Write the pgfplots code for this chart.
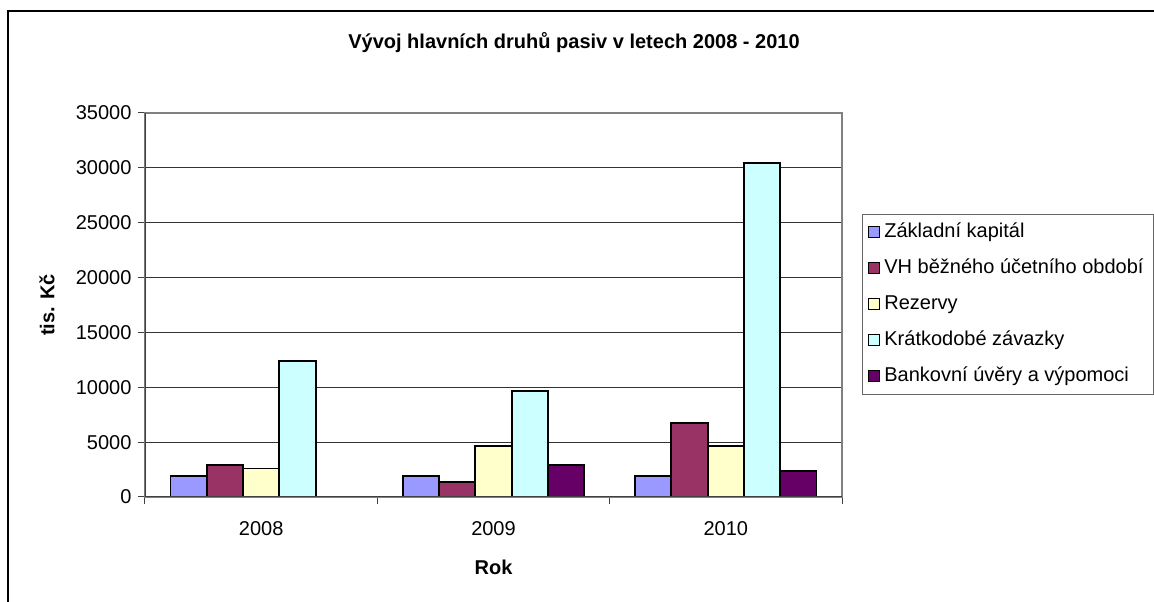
\documentclass[border=0pt]{standalone}
\usepackage{pgfplots}
\pgfplotsset{compat=1.18}
\usepackage{fontspec}
\setmainfont{Liberation Sans}
\definecolor{c1}{HTML}{9999FF}
\definecolor{c2}{HTML}{993366}
\definecolor{c3}{HTML}{FFFFCC}
\definecolor{c4}{HTML}{CCFFFF}
\definecolor{c5}{HTML}{660066}
\newcommand{\fs}{\fontsize{20pt}{24pt}\selectfont}
\pgfplotsset{
  sq legend/.style={legend image code/.code={\draw[##1,draw=black,line width=1pt] (0pt,-5.5pt) rectangle (11pt,5.5pt);}},
  bs/.style={draw=black, line width=1.8pt, sq legend}}
\begin{document}
\begin{tikzpicture}[x=1pt,y=1pt]
\draw[black, line width=2pt] (8,-30) -- (8,591) -- (1200,591);
\begin{axis}[
  at={(145pt,105pt)}, anchor=south west,
  scale only axis, width=697pt, height=384pt,
  xmin=-0.5, xmax=2.5, ymin=0, ymax=35000,
  ybar=0pt, bar width=36.3pt,
  xtick={0,1,2}, xticklabels={2008,2009,2010},
  major x tick style={draw=none},
  minor xtick={-0.5,0.5,1.5,2.5},
  ytick={0,5000,...,35000},
  scaled y ticks=false,
  /pgf/number format/assume math mode=true,
  yticklabel style={/pgf/number format/1000 sep={}, font=\fs, xshift=-3pt},
  xticklabel style={font=\fs, yshift=-14pt},
  tick align=outside, tick pos=left,
  major tick length=7pt, minor tick length=7pt,
  tick style={black!75, line width=1pt},
  ymajorgrids, grid style={black!80, line width=0.8pt},
  axis line style={draw=black!50, line width=1.2pt},
  title={\fs\bfseries Vývoj hlavních druhů pasiv v letech 2008 - 2010},
  title style={at={(axis description cs:0.6155,1.169)}, anchor=center},
  xlabel={\fs\bfseries Rok},
  xlabel style={at={(axis description cs:0.5,-0.182)}, anchor=center},
  ylabel={\fs\bfseries tis. Kč},
  ylabel style={at={(axis description cs:-0.1406,0.5)}, anchor=center},
  legend style={at={(axis description cs:1.0287,0.737)}, anchor=north west,
    draw=black!60, line width=0.8pt, fill=white, font=\fs,
    inner xsep=6pt, inner ysep=8pt, row sep=16pt,
    nodes={inner ysep=0pt, inner xsep=4pt, text height=15pt, text depth=5pt}},
  legend cell align=left,
]
\addplot[fill=c1, bs] coordinates {(0,1900) (1,1900) (2,1900)};
\addplot[fill=c2, bs] coordinates {(0,2900) (1,1400) (2,6770)};
\addplot[fill=c3, bs] coordinates {(0,2600) (1,4650) (2,4650)};
\addplot[fill=c4, bs] coordinates {(0,12420) (1,9690) (2,30450)};
\addplot[fill=c5, bs] coordinates {(1,2900) (2,2400)};
\legend{Základní kapitál, VH běžného účetního období, Rezervy, Krátkodobé závazky, Bankovní úvěry a výpomoci}
\draw[black!75, line width=1.8pt] (rel axis cs:0,1) -- (rel axis cs:0,0) -- (rel axis cs:1,0);
\end{axis}
\pgfresetboundingbox
\useasboundingbox (0,0) rectangle (1154,602);
\end{tikzpicture}
\end{document}
